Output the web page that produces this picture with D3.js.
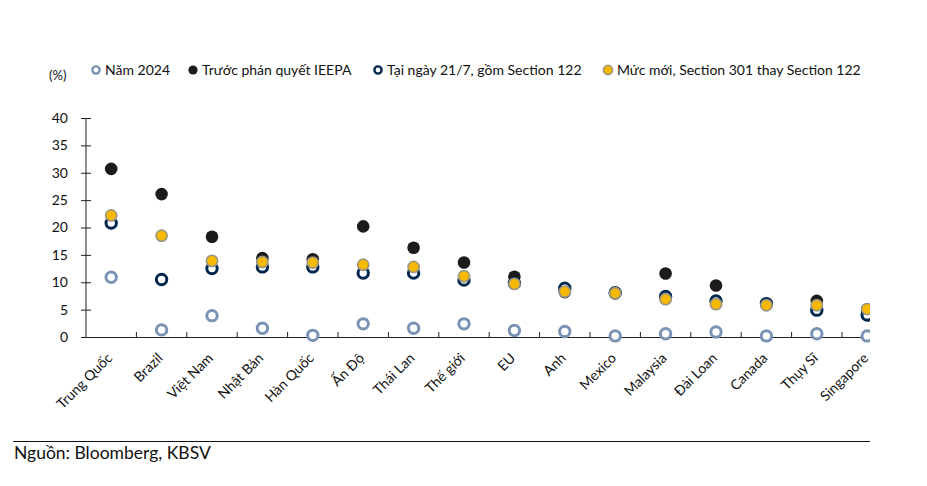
<!DOCTYPE html>
<html>
<head>
<meta charset="utf-8">
<script src="https://cdn.jsdelivr.net/npm/d3@7"></script>
<style>
  body { margin: 0; background: #fff; }
  text { font-family: Lato, "Open Sans", sans-serif; fill: #111; }
</style>
</head>
<body>
<div id="chart"></div>
<script>
const countries = ["Trung Quốc", "Brazil", "Việt Nam", "Nhật Bản", "Hàn Quốc", "Ấn Độ", "Thái Lan", "Thế giới",
  "EU", "Anh", "Mexico", "Malaysia", "Đài Loan", "Canada", "Thụy Sĩ", "Singapore"];

const year2024    = [10.9, 1.3, 3.9, 1.6, 0.3, 2.4, 1.6, 2.4, 1.2, 1.0, 0.2, 0.6, 0.9, 0.2, 0.6, 0.2];
const beforeIeepa = [30.7, 26.1, 18.3, 14.4, 14.2, 20.2, 16.3, 13.6, 11.0, 8.2, 8.0, 11.6, 9.4, 6.0, 6.6, 5.0];
const at21July    = [20.8, 10.5, 12.5, 12.8, 12.8, 11.7, 11.7, 10.4, 9.8, 8.9, 8.1, 7.4, 6.6, 6.1, 4.9, 4.0];
const newRate     = [22.2, 18.5, 13.9, 13.7, 13.6, 13.2, 12.8, 11.1, 9.7, 8.3, 8.0, 6.9, 6.0, 5.8, 5.8, 5.1];

const yTicks = [0, 5, 10, 15, 20, 25, 30, 35, 40];

const series = [
  { name: "Năm 2024", values: year2024, fill: "#fff", stroke: "#7a93b5", sw: 3, r: 5.2 },
  { name: "Trước phán quyết IEEPA", values: beforeIeepa, fill: "#1b1b1b", stroke: "#1b1b1b", sw: 0, r: 6.3 },
  { name: "Tại ngày 21/7, gồm Section 122", values: at21July, fill: "#fff", stroke: "#00284f", sw: 3, r: 5.2 },
  { name: "Mức mới, Section 301 thay Section 122", values: newRate, fill: "#f6b900", stroke: "#9b9584", sw: 1.6, r: 5.6 }
];

const width = 927, height = 486;
const margin = { left: 86, top: 118, right: 57, bottom: 149 };

const svg = d3.select("#chart").append("svg")
  .attr("width", width)
  .attr("height", height);

const xScale = d3.scaleBand()
  .domain(countries)
  .range([margin.left, margin.left + 50.4 * countries.length]);

const yScale = d3.scaleLinear()
  .domain([0, 40])
  .range([337, 118]);

svg.append("clipPath").attr("id", "plot-clip")
  .append("rect")
    .attr("x", 0).attr("y", 0)
    .attr("width", 870).attr("height", height);

const plot = svg.append("g").attr("clip-path", "url(#plot-clip)");

// y axis
const yAxis = svg.append("g")
  .attr("transform", `translate(${margin.left}, 0)`)
  .call(d3.axisLeft(yScale).tickValues(yTicks).tickSize(5).tickPadding(13));
yAxis.selectAll(".tick line").attr("x2", 5).attr("x1", -5).attr("stroke", "#222");
yAxis.select(".domain").attr("d", `M0,${yScale(40)}V${yScale(0)}`).attr("stroke", "#222");
yAxis.selectAll(".tick text")
  .style("font-size", "14px").style("font-family", "Lato, sans-serif").attr("fill", "#111");

// x axis
const xAxis = plot.append("g")
  .attr("transform", `translate(0, ${yScale(0)})`)
  .call(d3.axisBottom(xScale).tickSize(0).tickFormat(""));
xAxis.select(".domain").attr("stroke", "#222");
xAxis.selectAll(".tick").remove();

plot.append("g")
  .selectAll("line")
  .data(countries.slice(1))
  .join("line")
    .attr("x1", d => xScale(d))
    .attr("x2", d => xScale(d))
    .attr("y1", yScale(0))
    .attr("y2", yScale(0) - 5)
    .attr("stroke", "#222");

svg.append("g")
  .selectAll("text")
  .data(countries)
  .join("text")
    .attr("transform", d => `translate(${xScale(d) + xScale.bandwidth() / 2 + 2}, 359) rotate(-45)`)
    .attr("text-anchor", "end")
    .style("font-size", "14px")
    .text(d => d);

// markers
series.forEach(s => {
  plot.append("g")
    .selectAll("circle")
    .data(s.values)
    .join("circle")
      .attr("cx", (d, i) => xScale(countries[i]) + xScale.bandwidth() / 2)
      .attr("cy", d => yScale(d))
      .attr("r", s.r)
      .attr("fill", s.fill)
      .attr("stroke", s.stroke)
      .attr("stroke-width", s.sw);
});

// legend
const legendX = [96, 193, 378, 608];
const legend = svg.append("g");
series.forEach((s, i) => {
  legend.append("circle")
    .attr("cx", legendX[i]).attr("cy", 70)
    .attr("r", s.sw === 3 ? 3.6 : 4.6)
    .attr("fill", s.fill)
    .attr("stroke", s.stroke)
    .attr("stroke-width", s.sw === 3 ? 2.4 : s.sw);
  legend.append("text")
    .attr("x", legendX[i] + 9).attr("y", 75)
    .style("font-size", "14px")
    .text(s.name);
});

svg.append("text")
  .attr("x", 49).attr("y", 80)
  .style("font-size", "13px")
  .text("(%)");

// source
svg.append("line")
  .attr("x1", 13).attr("x2", 870)
  .attr("y1", 441.5).attr("y2", 441.5)
  .attr("stroke", "#111");

svg.append("text")
  .attr("x", 14).attr("y", 459)
  .style("font-size", "17.5px")
  .text("Nguồn: Bloomberg, KBSV");
</script>
</body>
</html>
